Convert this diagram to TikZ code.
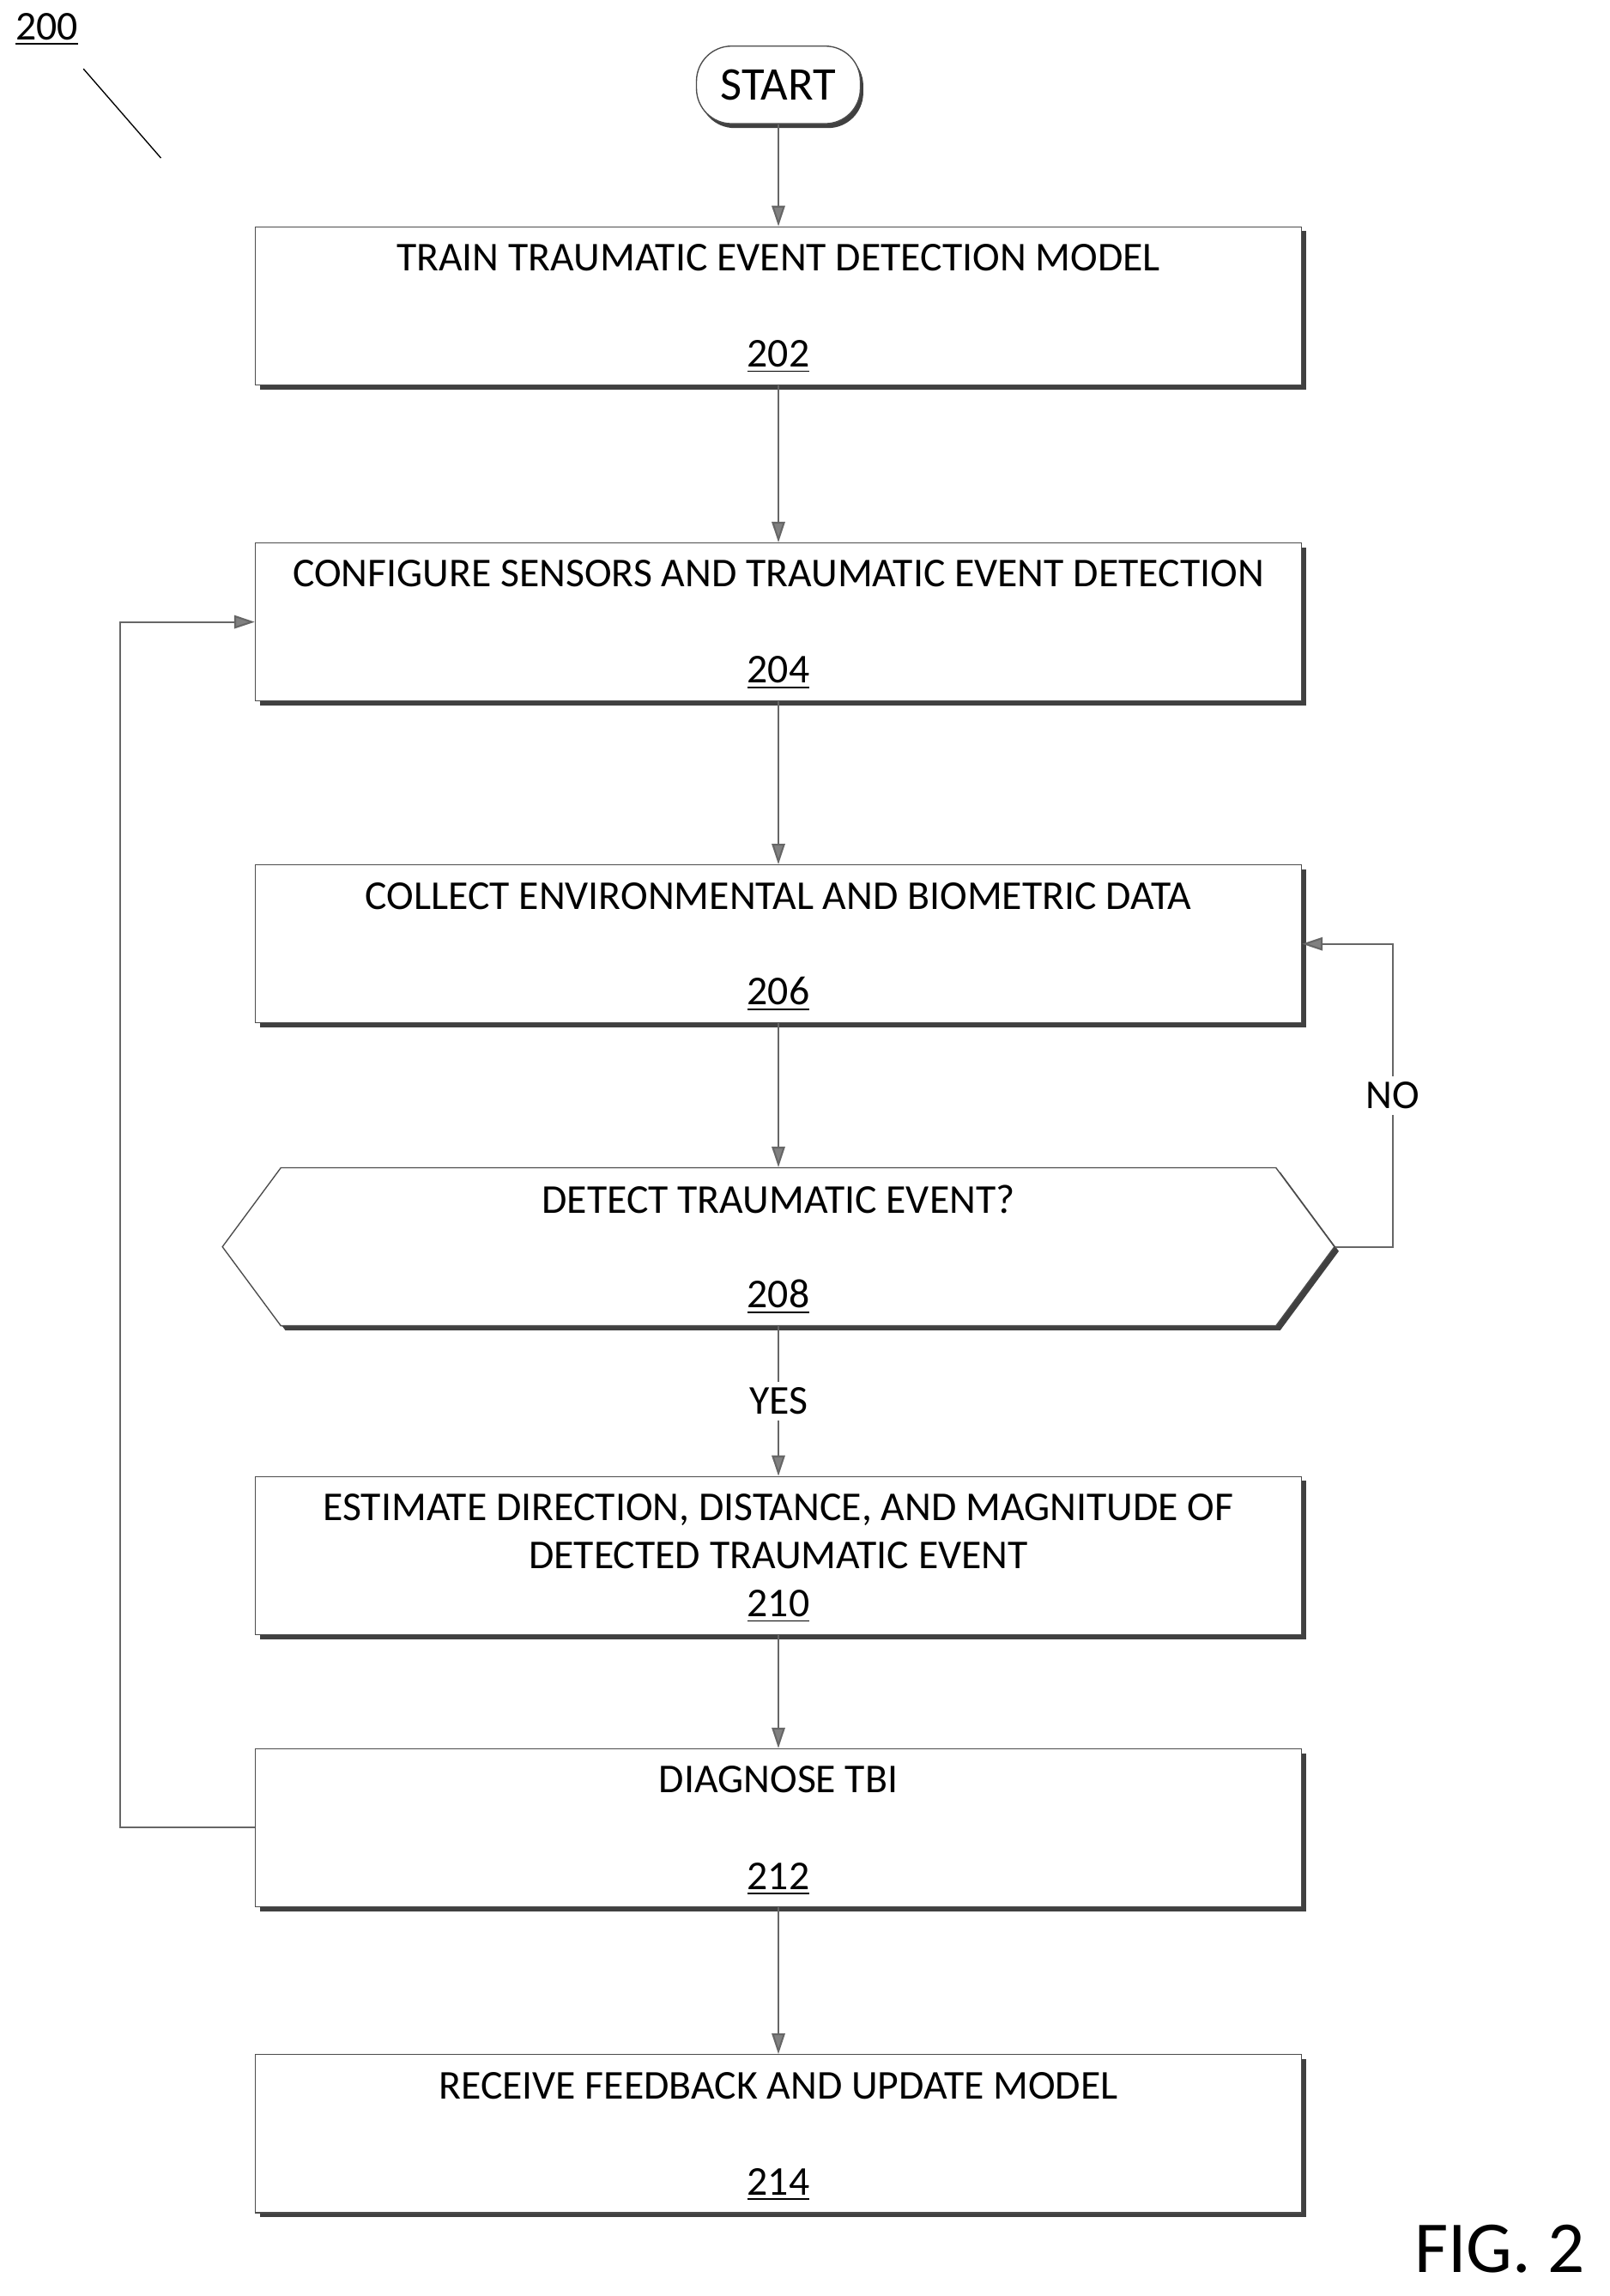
\documentclass[tikz,border=0pt]{standalone}
\usepackage{fontspec}
\setmainfont{Carlito}
\usetikzlibrary{positioning,shapes.symbols,shadows,arrows.meta}
\tikzset{
  stepbox/.style={draw=black!70, line width=0.4pt, fill=white, minimum width=357.5pt, minimum height=54pt, inner sep=0pt,
    drop shadow={shadow xshift=1.5pt, shadow yshift=-1.5pt, fill=black!75, opacity=1}},
  txt/.style={inner sep=0pt, font=\fontsize{14}{16.5}\selectfont, align=center},
  flow/.style={draw=black!60, line width=0.6pt, -{Triangle[length=7pt,width=4.5pt,fill=black!50]}},
}
\begin{document}
\begin{tikzpicture}[x=0.5pt,y=-0.5pt]
\useasboundingbox (0,0) rectangle (1100,1569);

%label
\node[txt] (ref) at (32,20) {\underline{200}};
\coordinate (refa) at (57,47);
\coordinate (refb) at (110,108);
\draw[line width=0.4pt] (refa) -- (refb);

%start
\node[draw=black!70, fill=white, rounded corners=12pt, minimum width=56pt, minimum height=26.5pt, inner sep=0pt,
  font=\fontsize{16}{18}\selectfont,
  drop shadow={shadow xshift=1pt, shadow yshift=-1.5pt, fill=black!75, opacity=1}] (start) at (532,58) {START};

%steps
\node[stepbox] (b202) at (532,209) {};
\node[stepbox] (b204) at (532,425) {};
\node[stepbox] (b206) at (532,645) {};
\node[draw=black!70, line width=0.4pt, fill=white, shape=signal, signal to=west and east, signal pointer angle=107,
  minimum width=380pt, minimum height=54pt, inner sep=0pt,
  drop shadow={shadow xshift=1.5pt, shadow yshift=-1.5pt, fill=black!75, opacity=1}] (b208) at (532,852) {};
\node[stepbox] (b210) at (532,1063) {};
\node[stepbox] (b212) at (532,1249) {};
\node[stepbox] (b214) at (532,1458) {};

%texts
\node[txt, below=6pt of b202.north] {TRAIN TRAUMATIC EVENT DETECTION MODEL};
\node[txt, above=4pt of b202.south] {\underline{202}};
\node[txt, below=6pt of b204.north] {CONFIGURE SENSORS AND TRAUMATIC EVENT DETECTION};
\node[txt, above=4pt of b204.south] {\underline{204}};
\node[txt, below=6pt of b206.north] {COLLECT ENVIRONMENTAL AND BIOMETRIC DATA};
\node[txt, above=4pt of b206.south] {\underline{206}};
\node[txt, below=6pt of b208.north] {DETECT TRAUMATIC EVENT?};
\node[txt, above=4pt of b208.south] {\underline{208}};
\node[txt, below=6pt of b210.north] {ESTIMATE DIRECTION, DISTANCE, AND MAGNITUDE OF\\DETECTED TRAUMATIC EVENT};
\node[txt, above=4pt of b210.south] {\underline{210}};
\node[txt, below=6pt of b212.north] {DIAGNOSE TBI};
\node[txt, above=4pt of b212.south] {\underline{212}};
\node[txt, below=6pt of b214.north] {RECEIVE FEEDBACK AND UPDATE MODEL};
\node[txt, above=4pt of b214.south] {\underline{214}};

%connectors
\draw[flow] (start) -- (b202);
\draw[flow] (b202) -- (b204);
\draw[flow] (b204) -- (b206);
\draw[flow] (b206) -- (b208);
\draw[flow] (b208) -- node[txt, fill=white, inner sep=2pt] {YES} (b210);
\draw[flow] (b210) -- (b212);
\draw[flow] (b212) -- (b214);
\draw[flow] (b208.east) -| node[txt, pos=0.75, fill=white, inner sep=2pt] {NO} (952,645) -- (b206.east);
\draw[flow] (b212.west) -| (82,425) -- (b204.west);

\node[font=\fontsize{25}{28}\selectfont, inner sep=0pt] (fig) at (1025,1537) {FIG. 2};
\end{tikzpicture}
\end{document}
